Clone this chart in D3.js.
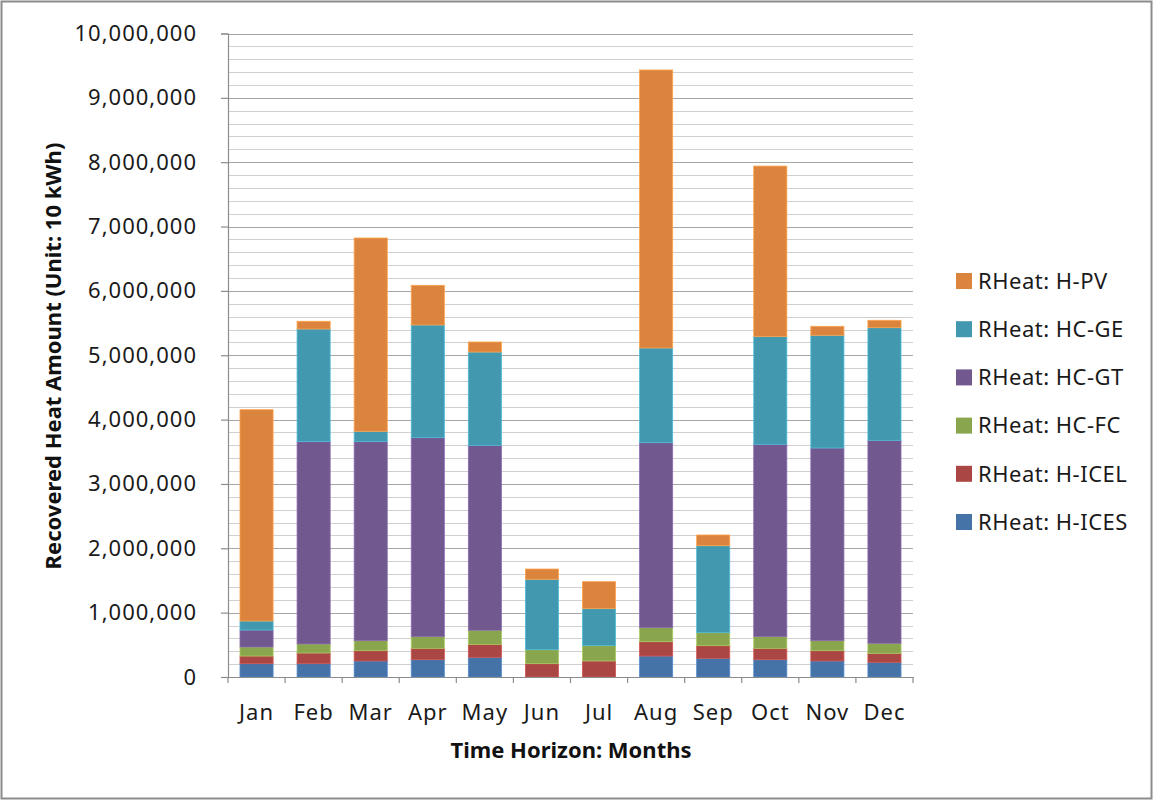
<!DOCTYPE html>
<html>
<head>
<meta charset="utf-8">
<script src="https://cdn.jsdelivr.net/npm/d3@7"></script>
<style>
  html, body { margin: 0; padding: 0; background: #fff; }
  svg { display: block; font-family: "Noto Sans", "Open Sans", sans-serif; }
</style>
</head>
<body>
<svg id="chart" width="1153" height="800"></svg>
<script>
// Monthly recovered heat, stacked by source (unit: 10 kWh)
const months = ["Jan", "Feb", "Mar", "Apr", "May", "Jun", "Jul", "Aug", "Sep", "Oct", "Nov", "Dec"];
const seriesNames = ["RHeat: H-ICES", "RHeat: H-ICEL", "RHeat: HC-FC", "RHeat: HC-GT", "RHeat: HC-GE", "RHeat: H-PV"];
const hIces = [207000, 207000, 249000, 269000, 306000, 0, 0, 326000, 290000, 269000, 249000, 228000];
const hIcel = [119000, 166000, 160000, 177000, 202000, 207000, 249000, 223000, 197000, 177000, 160000, 140000];
const hcFc  = [140000, 140000, 156000, 181000, 218000, 217000, 238000, 217000, 202000, 181000, 156000, 155000];
const hcGt  = [264000, 3144000, 3092000, 3092000, 2874000, 0, 0, 2875000, 0, 2989000, 2994000, 3155000];
const hcGe  = [140000, 1751000, 161000, 1751000, 1450000, 1094000, 575000, 1472000, 1351000, 1673000, 1751000, 1750000];
const hPv   = [3284000, 120000, 3004000, 617000, 156000, 160000, 419000, 4320000, 167000, 2651000, 140000, 115000];
const yTicks = [0, 1000000, 2000000, 3000000, 4000000, 5000000, 6000000, 7000000, 8000000, 9000000, 10000000];
const colors = ["#4572A7", "#AA4643", "#89A54E", "#71588F", "#4198AF", "#DB843D"];

const seriesValues = [hIces, hIcel, hcFc, hcGt, hcGe, hPv];
const rows = months.map((m, i) => {
  const r = { month: m };
  seriesNames.forEach((s, k) => { r[s] = seriesValues[k][i]; });
  return r;
});

const svg = d3.select("#chart");
const W = 1153, H = 800;
const plot = { left: 228, right: 913, top: 33.5, bottom: 677 };

// outer frame
svg.append("rect")
  .attr("x", 1.5).attr("y", 1.5)
  .attr("width", W - 3).attr("height", H - 3)
  .attr("fill", "#fff").attr("stroke", "#8c8c8c").attr("stroke-width", 2);

const x = d3.scaleBand().domain(months).range([plot.left, plot.right]).paddingInner(0.42).paddingOuter(0.21);
const y = d3.scaleLinear().domain([0, 10000000]).range([plot.bottom, plot.top]);

// minor and major gridlines
const minor = d3.range(0, 10000001, 200000);
svg.append("g").selectAll("line").data(minor).join("line")
  .attr("x1", plot.left).attr("x2", plot.right)
  .attr("y1", d => Math.round(y(d)) + 0.5).attr("y2", d => Math.round(y(d)) + 0.5)
  .attr("stroke", d => d % 1000000 === 0 ? "#a6a6a6" : "#d0d0d0")
  .attr("stroke-width", 1.2);

// stacked bars
const stack = d3.stack().keys(seriesNames);
const layers = stack(rows);
svg.append("g").selectAll("g").data(layers).join("g")
  .attr("fill", (d, i) => colors[i])
  .attr("stroke", (d, i) => d3.color(colors[i]).brighter(0.6))
  .attr("stroke-width", 0.8)
  .selectAll("rect").data(d => d.filter(s => s[1] - s[0] > 0)).join("rect")
  .attr("x", d => x(d.data.month))
  .attr("width", x.bandwidth())
  .attr("y", d => y(d[1]))
  .attr("height", d => y(d[0]) - y(d[1]));

// y axis
const yAxis = d3.axisLeft(y).tickValues(yTicks).tickSize(7).tickPadding(24)
  .tickFormat(d3.format(","));
const gy = svg.append("g").attr("transform", `translate(${plot.left},0)`).call(yAxis);
gy.select(".domain").attr("stroke", "#8c8c8c").attr("stroke-width", 1.2);
gy.selectAll(".tick line").attr("stroke", "#8c8c8c").attr("stroke-width", 1.2);
gy.selectAll(".tick text").attr("font-size", 22).attr("fill", "#1a1a1a")
  .attr("letter-spacing", 1)
  .attr("font-family", "'Noto Sans', sans-serif");

// x axis
const xAxis = d3.axisBottom(x).tickSize(0).tickPadding(27);
const gx = svg.append("g").attr("transform", `translate(0,${plot.bottom})`).call(xAxis);
gx.select(".domain").attr("stroke", "#8c8c8c").attr("stroke-width", 1.2);
gx.selectAll(".tick text").attr("font-size", 22).attr("fill", "#1a1a1a")
  .attr("letter-spacing", 1)
  .attr("font-family", "'Noto Sans', sans-serif");
// category boundary tick marks
svg.append("g").selectAll("line").data(d3.range(months.length + 1)).join("line")
  .attr("x1", i => plot.left + i * (plot.right - plot.left) / months.length)
  .attr("x2", i => plot.left + i * (plot.right - plot.left) / months.length)
  .attr("y1", plot.bottom).attr("y2", plot.bottom + 6)
  .attr("stroke", "#8c8c8c").attr("stroke-width", 1.2);

// axis titles
svg.append("text")
  .attr("transform", `translate(61,356) rotate(-90)`)
  .attr("text-anchor", "middle").attr("font-size", 22).attr("font-weight", "bold")
  .attr("fill", "#111")
  .text("Recovered Heat Amount (Unit: 10 kWh)");
svg.append("text")
  .attr("x", 571).attr("y", 758)
  .attr("text-anchor", "middle").attr("font-size", 22).attr("font-weight", "bold")
  .attr("fill", "#111")
  .text("Time Horizon: Months");

// legend (top entry is the top of the stack)
const legendOrder = seriesNames.map((s, i) => ({ name: s, color: colors[i] })).reverse();
const lg = svg.append("g").attr("transform", "translate(956,281)");
const item = lg.selectAll("g").data(legendOrder).join("g")
  .attr("transform", (d, i) => `translate(0,${i * 48.2})`);
item.append("rect").attr("x", 0).attr("y", -8).attr("width", 16).attr("height", 16)
  .attr("fill", d => d.color);
item.append("text").attr("x", 22).attr("y", 0).attr("dy", "0.35em")
  .attr("font-size", 22).attr("fill", "#1a1a1a").attr("letter-spacing", 0.5)
  .text(d => d.name);
</script>
</body>
</html>
